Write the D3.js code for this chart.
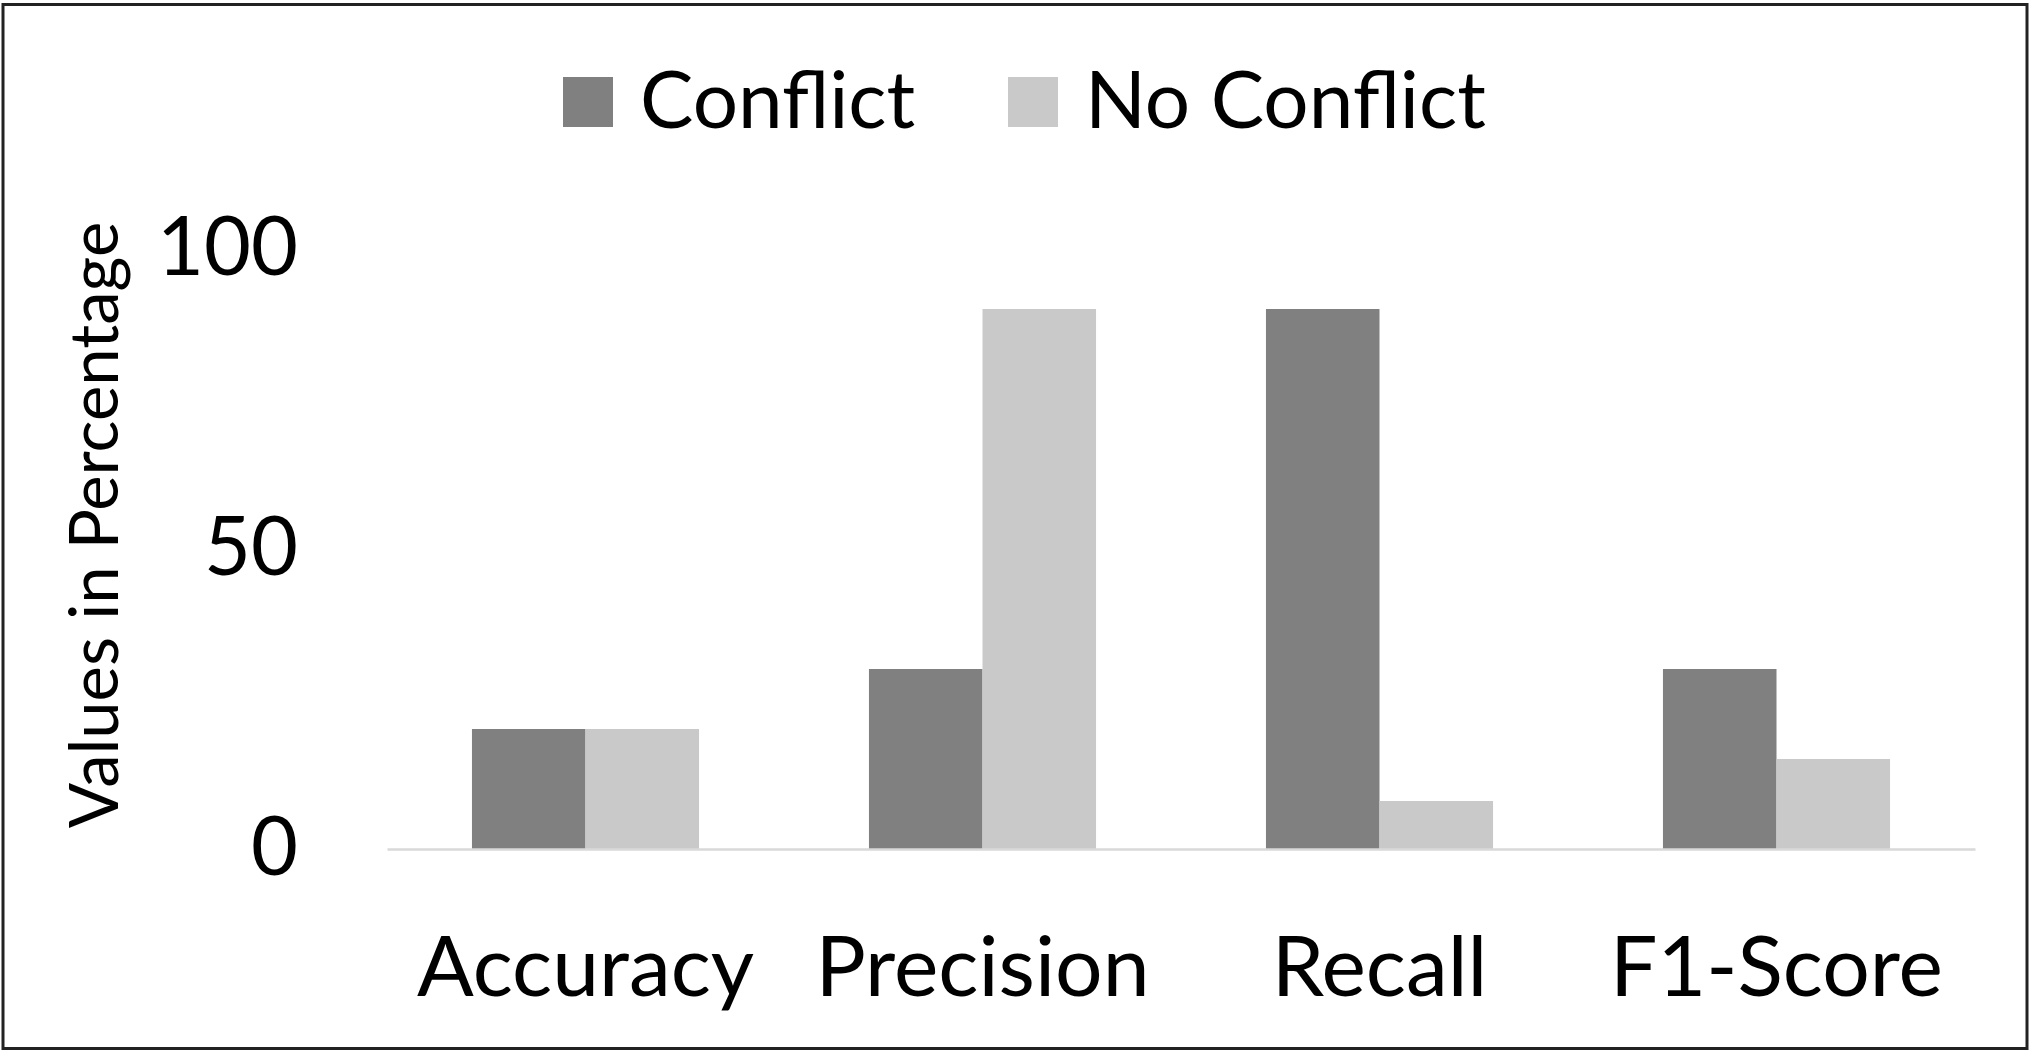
<!DOCTYPE html>
<html lang="en">
<head>
    <meta charset="UTF-8">
    <title>Conflict vs No Conflict</title>
    <script src="https://d3js.org/d3.v7.min.js"></script>
    <style>
        body {
            margin: 0;
            background: #fff;
        }
        svg text {
            font-family: Lato, "Open Sans", sans-serif;
            fill: #000;
        }
    </style>
</head>
<body>
    <div id="chart-container"></div>

    <script>
        // chart values
        const metrics = ["Accuracy", "Precision", "Recall", "F1-Score"];
        const seriesNames = ["Conflict", "No Conflict"];
        const conflictValues = [20, 30, 90, 30];
        const noConflictValues = [20, 90, 8, 15];
        const yTicks = [0, 50, 100];

        const chartWidth = 2035, chartHeight = 1058;
        const plotLeft = 387, plotRight = 1975, plotBottom = 849, plotTop = 249;

        const svg = d3.select("#chart-container")
            .append("svg")
            .attr("width", chartWidth)
            .attr("height", chartHeight);

        // outer frame
        svg.append("rect")
            .attr("x", 3)
            .attr("y", 4.5)
            .attr("width", 2024)
            .attr("height", 1044)
            .attr("fill", "#fff")
            .attr("stroke", "#222")
            .attr("stroke-width", 3);

        const xScale = d3.scaleBand()
            .domain(metrics)
            .range([plotLeft, plotRight])
            .paddingInner(0.428)
            .paddingOuter(0.214);

        const xInner = d3.scaleBand()
            .domain(seriesNames)
            .range([0, xScale.bandwidth()]);

        const yScale = d3.scaleLinear()
            .domain([0, 100])
            .range([plotBottom, plotTop]);

        const colorScale = d3.scaleOrdinal()
            .domain(seriesNames)
            .range(["#808080", "#c9c9c9"]);

        const rows = metrics.map((m, i) => ({
            metric: m,
            values: [
                { name: "Conflict", value: conflictValues[i] },
                { name: "No Conflict", value: noConflictValues[i] }
            ]
        }));

        // bars
        const groups = svg.append("g")
            .selectAll("g")
            .data(rows)
            .enter().append("g")
            .attr("transform", d => `translate(${xScale(d.metric)},0)`);

        groups.selectAll("rect")
            .data(d => d.values)
            .enter().append("rect")
            .attr("x", d => xInner(d.name))
            .attr("y", d => yScale(d.value))
            .attr("width", xInner.bandwidth())
            .attr("height", d => yScale(0) - yScale(d.value))
            .attr("fill", d => colorScale(d.name));

        // x axis
        const xAxis = svg.append("g")
            .attr("transform", `translate(0,${plotBottom})`)
            .call(d3.axisBottom(xScale).tickSize(0).tickSizeOuter(0).tickPadding(87));

        xAxis.select(".domain")
            .attr("stroke", "#d9d9d9")
            .attr("stroke-width", 2.5);

        xAxis.selectAll("text")
            .style("font-size", "84px")
            .style("font-family", "Lato, 'Open Sans', sans-serif")
            .attr("fill", "#000");

        // y axis (labels only)
        const yAxis = svg.append("g")
            .attr("transform", `translate(${plotLeft},0)`)
            .call(d3.axisLeft(yScale).tickValues(yTicks).tickSize(0).tickPadding(89));

        yAxis.select(".domain").remove();

        yAxis.selectAll("text")
            .style("font-size", "81px")
            .style("font-family", "Lato, 'Open Sans', sans-serif")
            .attr("fill", "#000");

        // y axis title
        svg.append("text")
            .attr("transform", "translate(118,525) rotate(-90)")
            .attr("text-anchor", "middle")
            .style("font-size", "67px")
            .text("Values in Percentage");

        // legend
        const legendX = [563, 1008];
        const legend = svg.append("g")
            .selectAll("g")
            .data(seriesNames)
            .enter().append("g")
            .attr("transform", (d, i) => `translate(${legendX[i]},77)`);

        legend.append("rect")
            .attr("width", 50)
            .attr("height", 50)
            .attr("fill", colorScale);

        legend.append("text")
            .attr("x", 77)
            .attr("y", 51)
            .style("font-size", "80px")
            .text(d => d);
    </script>
</body>
</html>
